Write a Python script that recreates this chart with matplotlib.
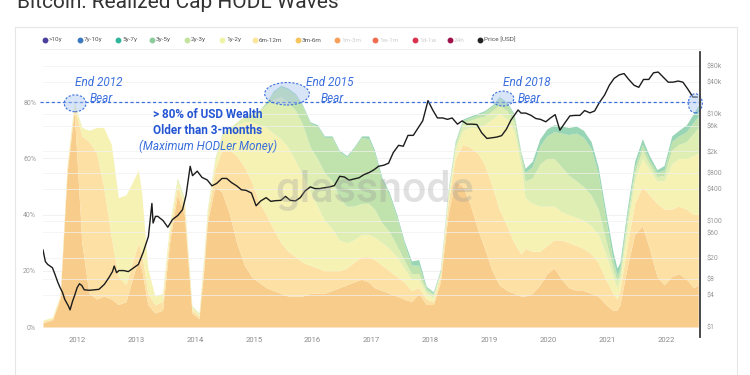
import numpy as np
import matplotlib
matplotlib.use("Agg")
import matplotlib.pyplot as plt
from matplotlib.patches import Ellipse, Rectangle
from matplotlib.lines import Line2D
from matplotlib.ticker import NullLocator, FixedLocator

plt.rcParams['font.family'] = ['Roboto', 'DejaVu Sans']

# ---------------- data ----------------
# time axis (decimal years)
t_wave = [2011.42, 2011.58, 2011.71, 2011.83, 2011.95,
          2012.08, 2012.20, 2012.33, 2012.45, 2012.58, 2012.70, 2012.83, 2012.95,
          2013.04, 2013.10, 2013.20, 2013.32, 2013.45, 2013.57, 2013.70, 2013.82, 2013.95,
          2014.07, 2014.15, 2014.21, 2014.34, 2014.46, 2014.59, 2014.71, 2014.84, 2014.96,
          2015.08, 2015.21, 2015.33, 2015.46, 2015.58, 2015.71, 2015.83, 2015.96,
          2016.08, 2016.20, 2016.33, 2016.45, 2016.58, 2016.70, 2016.83, 2016.95,
          2017.05, 2017.18, 2017.30, 2017.43, 2017.55, 2017.68, 2017.80, 2017.93,
          2018.05, 2018.17, 2018.30, 2018.42, 2018.55, 2018.67, 2018.80, 2018.92,
          2019.05, 2019.17, 2019.30, 2019.42, 2019.54, 2019.61, 2019.73, 2019.86, 2019.98,
          2020.10, 2020.23, 2020.35, 2020.48, 2020.60, 2020.73, 2020.85, 2020.98,
          2021.10, 2021.17, 2021.22, 2021.35, 2021.47, 2021.60, 2021.72, 2021.85, 2021.97,
          2022.10, 2022.22, 2022.35, 2022.47, 2022.55]

# upper edge (%) of each stacked band
top_3m_6m = [1.5, 2.5, 10, 55, 77,
             30, 12, 10, 11, 10, 8, 9, 18,
             24, 20, 8, 5, 6, 30, 47, 40, 5,
             3, 20, 37, 50, 48, 40, 30, 22, 18,
             16, 14, 13, 12, 11, 11, 11, 12,
             12, 12, 13, 14, 15, 16, 17, 16,
             14, 13, 12, 11, 10, 9, 12, 8,
             8, 16, 40, 52, 50, 44, 35, 28,
             20, 15, 13, 12, 11, 11, 12, 15, 19,
             21, 17, 14, 13, 13, 12, 11, 8,
             6, 6, 8, 22, 33, 36, 28, 18, 15,
             18, 19, 17, 14, 15]
top_6m_12m = [2, 3, 11, 57, 78.5,
              68, 66, 62, 50, 32, 18, 15, 24,
              30, 26, 12, 8, 9, 33, 50, 43, 6,
              4, 22, 39, 56, 63, 63, 61, 57, 52,
              45, 40, 35, 30, 27, 25, 23, 22,
              21, 20, 20, 20, 21, 23, 25, 25,
              24, 22, 20, 18, 16, 13, 14, 10,
              9, 18, 44, 60, 65, 64, 62, 58,
              50, 42, 36, 30, 26, 28, 27, 27, 29,
              31, 31, 30, 29, 28, 26, 23, 17,
              12, 10, 13, 30, 44, 50, 47, 44, 42,
              42, 43, 42, 40, 40]
top_1y_2y = [2.5, 3.5, 11.5, 58, 79.5,
             71, 70, 71, 71, 65, 46, 47, 52,
             56, 47, 21, 11, 12, 36, 52, 45, 7,
             4.5, 24, 41, 59, 68, 70, 72, 73, 73,
             72, 71, 69, 67, 64, 59, 54, 48,
             43, 38, 35, 31, 30, 31, 33, 33,
             32, 30, 28, 25, 21, 17, 17, 12,
             10.5, 19, 46, 63, 70, 71, 71, 72,
             74, 76, 74, 70, 57, 46, 44, 43, 43,
             43, 41, 40, 39, 38, 36, 33, 26,
             18, 14, 17, 36, 52, 60, 56, 52, 52,
             58, 60, 60, 61, 62]
top_2y_3y = [2.5, 3.5, 11.5, 58, 80,
             71, 70, 71, 71, 65, 46, 47, 52,
             56, 47, 21, 11, 12, 36.5, 53, 46, 7.5,
             5, 25, 42, 60, 69, 71, 73, 75, 76,
             77, 79, 81, 82, 80, 77, 72, 64,
             60, 55, 52, 46, 43, 43, 44, 44,
             42, 37, 34, 29, 24, 19, 19, 13,
             11.5, 19.5, 47, 64.5, 72.5, 73.5, 74.5, 75,
             77, 79, 77, 73, 60, 52, 53, 58, 60,
             60, 57, 54, 52, 50, 47, 42, 31,
             21, 16.5, 19, 39, 55, 63, 58, 53.5, 54,
             63, 65, 66, 69, 71]
top_3y_5y = [2.5, 3.5, 11.5, 58, 80,
             71, 70, 71, 71, 65, 46, 47, 52,
             56, 47, 21, 11, 12, 36.5, 53, 46, 7.5,
             5, 25, 42, 60, 69, 71, 73, 75, 76,
             77, 80, 83.5, 85.5, 84.5, 82.5, 78.5, 72.5,
             71.5, 67.5, 67.5, 62.5, 60.5, 63.5, 67.5, 67,
             62, 52, 47, 39, 30, 22, 22, 14,
             12, 20, 48, 65.5, 73.5, 74.5, 75.5, 76.5,
             78.5, 81.5, 79.5, 75.5, 61.5, 55, 57, 64.5, 68,
             69.5, 69, 68.5, 69, 67.5, 63.5, 54.5, 38.5,
             24, 18.5, 21, 41, 57, 65, 59.5, 55, 56,
             66, 68, 69.5, 73, 75]
top_5y_7y = [2.5, 3.5, 11.5, 58, 80,
             71, 70, 71, 71, 65, 46, 47, 52,
             56, 47, 21, 11, 12, 36.5, 53, 46, 7.5,
             5, 25, 42, 60, 69, 71, 73, 75, 76,
             77, 80, 84, 86, 85, 83, 79, 73,
             72, 68, 68, 63, 61, 64, 68, 68,
             63, 53, 48, 40, 31, 23.5, 24, 14.5,
             12.5, 20.5, 48.5, 66, 74, 75, 76, 77,
             79, 82, 80, 76, 62, 56.5, 59, 67, 70.5,
             72, 71.5, 71, 71.5, 70, 66, 57, 41,
             27, 21, 23, 43, 59, 67, 61, 56, 57.5,
             68, 70, 72, 76, 79]

t_price = [2011.42, 2011.46, 2011.50, 2011.54, 2011.58, 2011.62, 2011.67, 2011.71, 2011.75,
           2011.79, 2011.85, 2011.88, 2011.92, 2011.96,
           2012.00, 2012.04, 2012.08, 2012.12, 2012.21, 2012.29, 2012.37, 2012.46, 2012.54,
           2012.60, 2012.63, 2012.67, 2012.71, 2012.79, 2012.87, 2012.96,
           2013.04, 2013.12, 2013.21, 2013.27, 2013.29, 2013.33, 2013.37, 2013.46, 2013.54,
           2013.62, 2013.71, 2013.79, 2013.85, 2013.92, 2013.96,
           2014.04, 2014.12, 2014.21, 2014.29, 2014.37, 2014.46, 2014.54, 2014.62, 2014.71,
           2014.79, 2014.87, 2014.96,
           2015.04, 2015.12, 2015.21, 2015.29, 2015.37, 2015.46, 2015.54, 2015.62, 2015.71,
           2015.79, 2015.87, 2015.96,
           2016.04, 2016.12, 2016.21, 2016.29, 2016.37, 2016.46, 2016.54, 2016.62, 2016.71,
           2016.79, 2016.87, 2016.96,
           2017.04, 2017.12, 2017.21, 2017.29, 2017.37, 2017.46, 2017.54, 2017.62, 2017.71,
           2017.79, 2017.87, 2017.96,
           2018.04, 2018.12, 2018.21, 2018.29, 2018.37, 2018.46, 2018.54, 2018.62, 2018.71,
           2018.79, 2018.87, 2018.96,
           2019.04, 2019.12, 2019.21, 2019.29, 2019.37, 2019.49, 2019.54, 2019.62, 2019.71,
           2019.79, 2019.87, 2019.96,
           2020.04, 2020.12, 2020.20, 2020.29, 2020.37, 2020.46, 2020.54, 2020.62, 2020.71,
           2020.79, 2020.87, 2020.96,
           2021.04, 2021.12, 2021.21, 2021.29, 2021.37, 2021.46, 2021.54, 2021.62, 2021.71,
           2021.79, 2021.87, 2021.96,
           2022.04, 2022.12, 2022.21, 2022.29, 2022.37, 2022.46, 2022.53]
price_usd = [28, 17, 15, 14, 13, 10, 7, 5.5, 4.5,
             3.3, 2.5, 2.1, 3.0, 4.0,
             5.5, 6.5, 6.0, 5.0, 4.9, 5.0, 5.1, 6.3, 8.5,
             11, 14, 10.5, 11.5, 11.5, 11, 13,
             15, 25, 50, 210, 90, 120, 120, 100, 75,
             105, 125, 160, 300, 1050, 700,
             850, 650, 580, 450, 500, 620, 620, 520, 450,
             380, 370, 330,
             190, 235, 270, 230, 237, 240, 285, 240, 235,
             270, 360, 430,
             400, 400, 415, 430, 455, 680, 660, 575, 610,
             640, 730, 800,
             900, 1050, 1100, 1200, 1900, 2600, 2500, 4000, 4000,
             5500, 7500, 18000,
             12000, 8500, 8500, 8000, 8500, 6500, 7500, 6500, 6500,
             6400, 4500, 3500,
             3600, 3700, 3950, 5200, 7800, 12000, 10500, 10500, 9500,
             8300, 8000, 7200,
             8500, 9800, 5000, 7000, 9300, 9500, 9500, 11700, 10600,
             11500, 16500, 23000,
             35000, 47000, 55000, 58000, 45000, 35000, 32000, 45000, 45000,
             60000, 62000, 49000,
             40000, 40000, 42000, 40000, 30000, 21000, 21000]

year_ticks = list(range(2012, 2023))
pct_ticks = [0, 20, 40, 60, 80]
price_ticks = [1, 4, 8, 20, 60, 100, 400, 800, 2000, 6000, 10000, 40000, 80000]
price_labels = ['$1', '$4', '$8', '$20', '$60', '$100', '$400', '$800', '$2k', '$6k',
                '$10k', '$40k', '$80k']

legend_names = ['>10y', '7y-10y', '5y-7y', '3y-5y', '2y-3y', '1y-2y', '6m-12m', '3m-6m',
                '1m-3m', '1w-1m', '1d-1w', '24h', 'Price [USD]']
legend_colors = ['#4a3f9c', '#3a79bf', '#2fb59b', '#8ccb9b', '#c4e39c', '#eff3a6', '#fbe79b',
                 '#f6c45a', '#f7a05b', '#f26c4f', '#d8344e', '#a0134a', '#222222']
legend_on = [True] * 8 + [False] * 4 + [True]

# ---------------- figure ----------------
W, H = 750, 375
fig = plt.figure(figsize=(7.5, 3.75), dpi=100, facecolor='white')


def fx(x):
    return x / W


def fy(y):
    return 1 - y / H


# card border
fig.add_artist(Rectangle((fx(15), fy(400)), fx(737) - fx(15), fy(27) - fy(400),
                         transform=fig.transFigure, fill=False, ec='#e6e6e6', lw=0.8))
fig.add_artist(Line2D([fx(40), fx(700)], [fy(49), fy(49)], transform=fig.transFigure,
                      color='#ededed', lw=0.7))

fig.text(fx(17), fy(8), 'Bitcoin: Realized Cap HODL Waves', fontsize=15, color='#333333',
         va='baseline', ha='left')

ax = fig.add_axes([fx(43), fy(327), (700 - 43) / W, (327 - 46) / H])
ax.set_xlim(2011.42, 2022.58)
ax.set_ylim(0, 100)

t = np.array(t_wave)
edges = [np.zeros(len(t))] + [np.array(e, dtype=float) for e in
                              (top_3m_6m, top_6m_12m, top_1y_2y, top_2y_3y, top_3y_5y, top_5y_7y)]
band_colors = ['#f8cd8c', '#fde1a4', '#f6f2b4', '#dfeeb3', '#c0e2ac', '#98d5b4']
for i in range(6):
    ax.fill_between(t, edges[i], edges[i + 1], color=band_colors[i], lw=0, zorder=2)

for s in ax.spines.values():
    s.set_visible(False)
ax.set_xticks(year_ticks)
ax.set_xticklabels([str(y) for y in year_ticks])
ax.set_yticks(pct_ticks)
ax.set_yticklabels([f'{p}%' for p in pct_ticks])
ax.tick_params(axis='x', length=0, pad=7, labelsize=5.5, labelcolor='#8a8a8a')
ax.tick_params(axis='y', length=0, pad=5, labelsize=5, labelcolor='#9a9a9a')
ax.grid(axis='y', color='#efefef', lw=0.6, zorder=0)
ax.set_axisbelow(True)

ax2 = ax.twinx()
ax2.set_yscale('log')
ax2.set_ylim(1, 10 ** ((327 - 46) / 53.2))
ax2.set_xlim(2011.42, 2022.58)
ax2.yaxis.set_major_locator(FixedLocator(price_ticks))
ax2.yaxis.set_minor_locator(NullLocator())
ax2.set_yticklabels(price_labels)
ax2.tick_params(axis='y', length=0, pad=5, labelsize=5, labelcolor='#9a9a9a')
for s in ax2.spines.values():
    s.set_visible(False)
ax2.grid(axis='y', color='#f1f1f1', lw=0.5)

ax2.plot(t_price, price_usd, color='#1c1c1c', lw=1.0, zorder=5)

# right axis line
fig.add_artist(Line2D([fx(700), fx(700)], [fy(52), fy(337)], transform=fig.transFigure,
                      color='#3a3a3a', lw=1.3))

# watermark
fig.text(fx(375), fy(190), 'glassnode', fontsize=31, color='#9a9a9a', alpha=0.3,
         ha='center', va='center', fontweight='medium', zorder=10)

# annotations
blue = '#3a6fdc'
ax2.plot([2011.42 - 0.05, 2022.58], [80, 80], transform=ax.transData, color=blue,
         lw=0.9, ls=(0, (2.5, 2)), zorder=6, clip_on=False)
for cx, cy, w, h in [(2011.966, 79.6, 0.37, 6.0), (2015.565, 83.0, 0.76, 8.0),
                     (2019.232, 81.3, 0.37, 5.3), (2022.50, 79.6, 0.24, 6.8)]:
    ax2.add_patch(Ellipse((cx, cy), w, h, transform=ax.transData, fc='#a9c4f0', alpha=0.45,
                          ec='none', zorder=6, clip_on=False))
    ax2.add_patch(Ellipse((cx, cy), w, h, transform=ax.transData, fc='none', ec=blue,
                          lw=0.8, ls=(0, (2, 1.5)), zorder=7, clip_on=False))

for x0, label in [(99, 'End 2012'), (330, 'End 2015'), (527, 'End 2018')]:
    fig.text(fx(x0), fy(83), label, fontsize=8.5, style='italic', color=blue,
             ha='center', va='center')
    fig.text(fx(x0 + 2), fy(98), 'Bear', fontsize=8.5, style='italic', color=blue,
             ha='center', va='center')

fig.text(fx(208), fy(115), '> 80% of USD Wealth', fontsize=8.5, fontweight='bold',
         color='#2455d3', ha='center', va='center')
fig.text(fx(208), fy(131), 'Older than 3-months', fontsize=8.5, fontweight='bold',
         color='#2455d3', ha='center', va='center')
fig.text(fx(208), fy(146), '(Maximum HODLer Money)', fontsize=8.5, style='italic',
         color=blue, ha='center', va='center')

# legend
marker_x = [45, 80, 118, 152, 187, 222, 255, 298, 337, 375, 415, 450, 480]
for mx, name, col, on in zip(marker_x, legend_names, legend_colors, legend_on):
    fig.add_artist(Line2D([fx(mx)], [fy(40)], marker='o', ms=3.2, color=col, mec=col,
                          transform=fig.transFigure, ls='none'))
    fig.text(fx(mx + 4), fy(40), name, fontsize=4.6, color='#555555' if on else '#cfcfcf',
             ha='left', va='center')

fig.savefig('out.png', dpi=100, facecolor='white')
